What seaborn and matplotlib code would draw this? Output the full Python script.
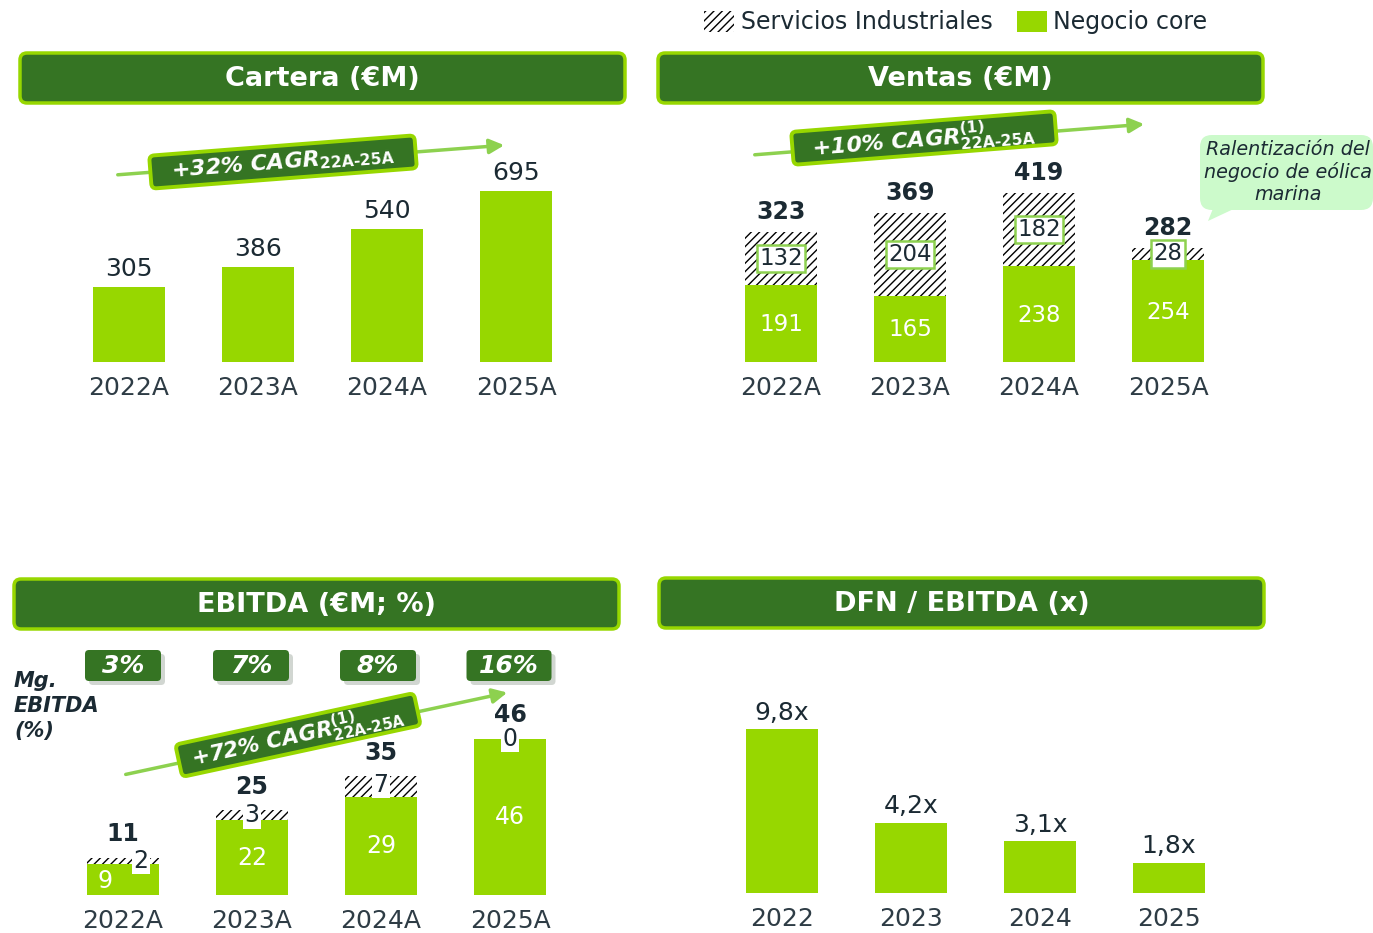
import numpy as np
import pandas as pd
import seaborn as sns
import matplotlib
matplotlib.use("Agg")
import matplotlib.pyplot as plt
from matplotlib.patches import FancyBboxPatch, Rectangle, Polygon, FancyArrowPatch
from matplotlib.transforms import Affine2D

# ---------------- data ----------------
years_a = ["2022A", "2023A", "2024A", "2025A"]
years = ["2022", "2023", "2024", "2025"]
cartera = [305, 386, 540, 695]
ventas_core = [191, 165, 238, 254]
ventas_serv = [132, 204, 182, 28]
ventas_total = [323, 369, 419, 282]
ebitda_core = [9, 22, 29, 46]
ebitda_serv = [2, 3, 7, 0]
ebitda_total = [11, 25, 35, 46]
ebitda_margin = ["3%", "7%", "8%", "16%"]
dfn_ebitda = [9.8, 4.2, 3.1, 1.8]
dfn_labels = ["9,8x", "4,2x", "3,1x", "1,8x"]

# ---------------- style ----------------
sns.set_theme(style="white")
plt.rcParams["font.family"] = ["DejaVu Sans"]
plt.rcParams["mathtext.fontset"] = "dejavusans"
plt.rcParams["hatch.linewidth"] = 1.0
plt.rcParams["hatch.color"] = "black"

GREEN = "#97D700"
DARK = "#357423"
LIGHT = "#8DD14F"
TXT = "#1B2A33"
TICK = "#2E3C45"
HATCH = "////"

W, H = 1373, 933
fig = plt.figure(figsize=(W / 100, H / 100), dpi=100)
# pixel transform with origin at top-left
T = Affine2D().scale(1, -1).translate(0, H).scale(0.01) + fig.dpi_scale_trans


def add_ax(c0, bottom, top, k, spacing=129):
    left = c0 - spacing / 2
    ax = fig.add_axes([left / W, 1 - bottom / H, 4 * spacing / W, (bottom - top) / H])
    ax._ylim = (bottom - top) / k
    return ax


def finish_ax(ax, labels, pad=10):
    ax.set_xlim(-0.5, 3.5)
    ax.set_ylim(0, ax._ylim)
    ax.set_xticks(range(4))
    ax.set_xticklabels(labels)
    ax.tick_params(axis="x", length=0, pad=pad, labelsize=18, labelcolor=TICK)
    ax.set_yticks([])
    ax.set_xlabel("")
    ax.set_ylabel("")
    sns.despine(ax=ax, left=True, bottom=True)
    ax.patch.set_alpha(0)


def header(x0, y0, w, h, title):
    fig.patches.append(FancyBboxPatch((x0, y0), w, h,
                                      boxstyle="round,pad=0,rounding_size=7",
                                      fc=DARK, ec=GREEN, lw=2.5, transform=T, figure=fig))
    fig.text(x0 + w / 2, y0 + h / 2 + 1, title, transform=T, ha="center", va="center",
             color="white", fontsize=19.5, fontweight="bold")


def cagr(p0, p1, center, angle, bw, bh, label, fs=16):
    fig.patches.append(FancyArrowPatch(p0, p1, transform=T, figure=fig,
                                       arrowstyle="-|>", mutation_scale=22,
                                       color=LIGHT, lw=2.5))
    tr = Affine2D().rotate_deg(-angle).translate(center[0], center[1]) + T
    fig.patches.append(FancyBboxPatch((-bw / 2, -bh / 2), bw, bh,
                                      boxstyle="round,pad=0,rounding_size=5",
                                      fc=DARK, ec=GREEN, lw=2.8, transform=tr, figure=fig))
    fig.text(center[0], center[1] + 1, label, transform=T, ha="center", va="center",
             rotation=angle, rotation_mode="anchor", color="white", fontsize=fs,
             fontweight="bold", style="italic")


# ---------------- legend ----------------
fig.patches.append(Rectangle((704, 11), 30, 21, transform=T, figure=fig,
                             fc="white", ec="black", lw=0, hatch=HATCH))
fig.text(741, 22, "Servicios Industriales", transform=T, ha="left", va="center",
         fontsize=17, color=TXT)
fig.patches.append(Rectangle((1017, 11), 30, 21, transform=T, figure=fig,
                             fc=GREEN, ec="none", lw=0))
fig.text(1053, 22, "Negocio core", transform=T, ha="left", va="center",
         fontsize=17, color=TXT)

# ---------------- headers ----------------
header(20, 53, 605, 50, "Cartera (€M)")
header(658, 53, 605, 50, "Ventas (€M)")
header(14, 579, 605, 50, "EBITDA (€M; %)")
header(659, 578, 605, 50, "DFN / EBITDA (x)")

# ---------------- Cartera ----------------
ax1 = add_ax(129, 362, 115, 0.246)
sns.barplot(x=years_a, y=cartera, ax=ax1, color=GREEN, saturation=1, width=0.56, linewidth=0)
for i, v in enumerate(cartera):
    ax1.annotate(str(v), (i, v), xytext=(0, 13), textcoords="offset points",
                 ha="center", va="center", fontsize=18, color=TXT)
finish_ax(ax1, years_a)

# ---------------- Ventas ----------------
ax2 = add_ax(781, 362, 115, 0.403)
sns.barplot(x=years_a, y=ventas_total, ax=ax2, color="white", saturation=1, width=0.56,
            linewidth=0, edgecolor="black", hatch=HATCH)
sns.barplot(x=years_a, y=ventas_core, ax=ax2, color=GREEN, saturation=1, width=0.56, linewidth=0)
for i in range(4):
    c, s, t = ventas_core[i], ventas_serv[i], ventas_total[i]
    ax2.text(i, c / 2 - 3, str(c), ha="center", va="center", fontsize=16.5, color="white")
    ax2.text(i, c + s / 2, str(s), ha="center", va="center", fontsize=16.5, color=TXT,
             bbox=dict(boxstyle="square,pad=0.1", fc="white", ec=LIGHT, lw=1.8))
    ax2.annotate(str(t), (i, t), xytext=(0, 14.5), textcoords="offset points",
                 ha="center", va="center", fontsize=17, fontweight="bold", color=TXT)
finish_ax(ax2, years_a)

cagr((115, 175), (507, 145), (283, 162), 4.4, 266, 33,
     r"+32% CAGR$_{\mathbf{22A‐25A}}$")
cagr((752, 155), (1147, 124), (924, 138), 4.5, 264, 33,
     r"+10% CAGR$^{\mathbf{(1)}}_{\mathbf{22A‐25A}}$")

# callout
fig.patches.append(FancyBboxPatch((1200, 135), 173, 75, boxstyle="round,pad=0,rounding_size=12",
                                  fc="#CCFACB", ec="none", transform=T, figure=fig))
fig.patches.append(Polygon([(1214, 206), (1240, 206), (1208, 221)], closed=True,
                           fc="#CCFACB", ec="none", transform=T, figure=fig))
fig.text(1288, 172, "Ralentización del\nnegocio de eólica\nmarina", transform=T,
         ha="center", va="center", fontsize=13.8, style="italic", color=TXT, linespacing=1.2)

# ---------------- EBITDA ----------------
ax3 = add_ax(123, 895, 640, 3.39)
sns.barplot(x=years_a, y=ebitda_total, ax=ax3, color="white", saturation=1, width=0.56,
            linewidth=0, edgecolor="black", hatch=HATCH)
sns.barplot(x=years_a, y=ebitda_core, ax=ax3, color=GREEN, saturation=1, width=0.56, linewidth=0)
for i in range(4):
    c, s, t = ebitda_core[i], ebitda_serv[i], ebitda_total[i]
    dx = 0.14 if i == 0 else 0.0
    cy = c / 2 if i > 0 else c / 2 - 0.5
    ax3.text(i - dx, cy, str(c), ha="center", va="center", fontsize=17, color="white")
    ax3.text(i + dx, c + s / 2, str(s), ha="center", va="center", fontsize=17, color=TXT,
             bbox=dict(boxstyle="square,pad=0.05", fc="white", ec="none"))
    ax3.annotate(str(t), (i, t), xytext=(0, 17), textcoords="offset points",
                 ha="center", va="center", fontsize=17, fontweight="bold", color=TXT)
finish_ax(ax3, years_a)

cagr((123, 775), (510, 692), (298, 735), 12.2, 244, 33,
     r"+72% CAGR$^{\mathbf{(1)}}_{\mathbf{22A‐25A}}$", fs=15.5)

# margin boxes
for cx, w, m in zip([123, 251, 378, 509], [76, 76, 76, 85], ebitda_margin):
    fig.patches.append(FancyBboxPatch((cx - w / 2 + 4, 654), w, 31,
                                      boxstyle="round,pad=0,rounding_size=4",
                                      fc="#9AA59A", ec="none", alpha=0.45, transform=T, figure=fig))
    fig.patches.append(FancyBboxPatch((cx - w / 2, 650), w, 31,
                                      boxstyle="round,pad=0,rounding_size=4",
                                      fc=DARK, ec="none", transform=T, figure=fig))
    fig.text(cx, 666, m, transform=T, ha="center", va="center", color="white",
             fontsize=18, fontweight="bold", style="italic")

fig.text(14, 706, "Mg.\nEBITDA\n(%)", transform=T, ha="left", va="center", fontsize=15,
         fontweight="bold", style="italic", color=TXT, linespacing=1.3)

# ---------------- DFN / EBITDA ----------------
ax4 = add_ax(782, 893, 640, 16.7)
sns.barplot(x=years, y=dfn_ebitda, ax=ax4, color=GREEN, saturation=1, width=0.56, linewidth=0)
for i, v in enumerate(dfn_ebitda):
    ax4.annotate(dfn_labels[i], (i, v), xytext=(0, 12), textcoords="offset points",
                 ha="center", va="center", fontsize=18, color=TXT)
finish_ax(ax4, years)

fig.savefig("out.png", dpi=100)
